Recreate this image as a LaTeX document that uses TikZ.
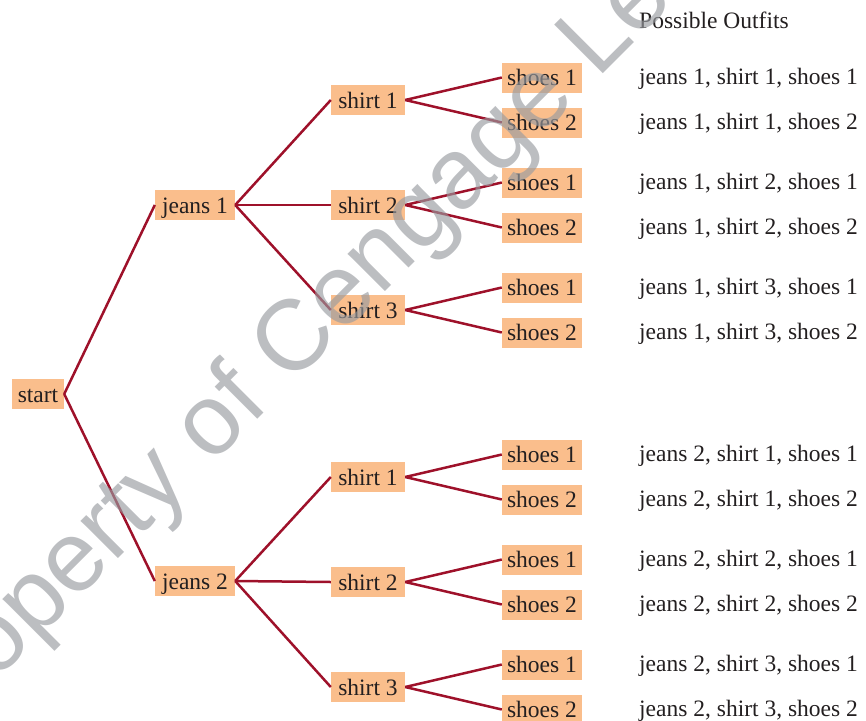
\documentclass[tikz,border=0pt]{standalone}
\usepackage{fontspec}
\setmainfont{Liberation Serif}
\newfontfamily\wmfont{Liberation Sans}
\usepackage{tikz}

\definecolor{treered}{RGB}{158,17,42}
\definecolor{boxfill}{RGB}{250,190,140}
\definecolor{ink}{RGB}{35,31,32}
\definecolor{wmgray}{RGB}{152,155,160}

\begin{document}
\begin{tikzpicture}[x=1pt, y=-1pt,
        every node/.style={font=\fontsize{23.5}{27}\selectfont, text=ink},
        box/.style={fill=boxfill, inner xsep=5pt, inner ysep=3pt, text height=20pt, text depth=4pt},
        jeansbox/.style={box, minimum width=80pt},
        shirtbox/.style={box, minimum width=74pt},
        shoesbox/.style={box, minimum width=80pt},
        outfit/.style={anchor=base west, inner sep=0pt},
        edge/.style={draw=treered, line width=2.5pt}]
        \useasboundingbox (0,0) rectangle (866,720);

        % Root and first choice
        \node[box, minimum width=52pt] (start) at (38,394) {start};
        \node[jeansbox] (j1) at (195,205) {jeans 1};
        \node[jeansbox] (j2) at (195,581) {jeans 2};
        \draw[edge] (start.east) -- (j1.west);
        \draw[edge] (start.east) -- (j2.west);

        % Column heading
        \node[outfit] (title) at (639,28) {Possible Outfits};

        % Shirts, shoes and the outfit list
        \foreach \j/\dy in {1/0, 2/377}
            \foreach \s in {1,2,3} {
                \pgfmathsetmacro\ys{100+105*(\s-1)+\dy}
                \node[shirtbox] (j\j-s\s) at (368,\ys) {shirt \s};
                \node[shoesbox] (j\j-s\s-h1) at (542,{\ys-22.5}) {shoes 1};
                \node[shoesbox] (j\j-s\s-h2) at (542,{\ys+22.5}) {shoes 2};
                \draw[edge] (j\j.east) -- (j\j-s\s.west);
                \draw[edge] (j\j-s\s.east) -- (j\j-s\s-h1.west);
                \draw[edge] (j\j-s\s.east) -- (j\j-s\s-h2.west);
                \node[outfit] (out-\j-\s-1) at (639,{\ys-15.5}) {jeans \j, shirt \s, shoes 1};
                \node[outfit] (out-\j-\s-2) at (639,{\ys+29.5}) {jeans \j, shirt \s, shoes 2};
            }

        % Watermark
        \node[rotate=45, anchor=base west, inner sep=0pt, text=wmgray, opacity=0.65,
              font=\wmfont\fontsize{100}{100}\selectfont] (watermark) at (-75,752) {Property of Cengage Learning};
    \end{tikzpicture}
\end{document}
